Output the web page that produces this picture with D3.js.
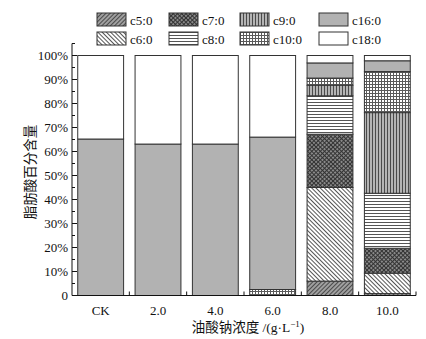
<!DOCTYPE html>
<html>
<head>
<meta charset="utf-8">
<script src="https://cdn.jsdelivr.net/npm/d3@7/dist/d3.min.js"></script>
<style>
  body { margin: 0; background: #fff; }
  text { font-family: "Liberation Serif", "Noto Sans CJK SC", serif; fill: #111; }
</style>
</head>
<body>
<div id="chart"></div>
<script>
// categories (x) and stacked series, bottom to top
const categories = ["CK", "2.0", "4.0", "6.0", "8.0", "10.0"];
const seriesNames = ["c5:0", "c6:0", "c7:0", "c8:0", "c9:0", "c10:0", "c16:0", "c18:0"];

const c5  = [0, 0, 0, 0, 6.0, 0.8];
const c6  = [0, 0, 0, 0, 39.0, 8.5];
const c7  = [0, 0, 0, 0, 22.2, 10.4];
const c8  = [0, 0, 0, 0, 16.0, 22.9];
const c9  = [0, 0, 0, 0, 4.4, 33.6];
const c10 = [0, 0, 0, 2.5, 3.0, 17.1];
const c16 = [65.2, 63.1, 63.1, 63.5, 6.3, 4.5];
const c18 = [34.8, 36.9, 36.9, 34.0, 3.1, 2.2];

const yTicks = [0, 10, 20, 30, 40, 50, 60, 70, 80, 90, 100];
const yMinor = [5, 15, 25, 35, 45, 55, 65, 75, 85, 95, 105];

const seriesValues = [c5, c6, c7, c8, c9, c10, c16, c18];
const table = categories.map((c, i) => {
    const row = { cat: c };
    seriesNames.forEach((s, j) => row[s] = seriesValues[j][i]);
    return row;
});

const width = 426, height = 339;
const left = 72, right = 416, bottom = 295.5;

const svg = d3.select("#chart").append("svg")
    .attr("width", width)
    .attr("height", height);

// fill patterns
const defs = svg.append("defs");
function linePattern(id, bg, stroke, angle, cross, size) {
    const p = defs.append("pattern")
        .attr("id", id)
        .attr("patternUnits", "userSpaceOnUse")
        .attr("width", size).attr("height", size)
        .attr("patternTransform", `rotate(${angle})`);
    p.append("rect").attr("width", size).attr("height", size).attr("fill", bg);
    p.append("line").attr("x1", 0.5).attr("y1", 0).attr("x2", 0.5).attr("y2", size)
        .attr("stroke", stroke).attr("stroke-width", 1);
    if (cross) {
        p.append("line").attr("x1", 0).attr("y1", 0.5).attr("x2", size).attr("y2", 0.5)
            .attr("stroke", stroke).attr("stroke-width", 1);
    }
}
linePattern("p-c5", "#a0a0a0", "#4a4a4a", 45, false, 3);
linePattern("p-c6", "#ffffff", "#555555", -45, false, 3);
linePattern("p-c7", "#8a8a8a", "#333333", 45, true, 3);
linePattern("p-c8", "#ffffff", "#555555", 90, false, 3);
linePattern("p-c9", "#b4b4b4", "#4a4a4a", 0, false, 3);
linePattern("p-c10", "#ffffff", "#5a5a5a", 0, true, 3);

const fills = {
    "c5:0": "url(#p-c5)",
    "c6:0": "url(#p-c6)",
    "c7:0": "url(#p-c7)",
    "c8:0": "url(#p-c8)",
    "c9:0": "url(#p-c9)",
    "c10:0": "url(#p-c10)",
    "c16:0": "#b2b2b2",
    "c18:0": "#ffffff"
};

const x = d3.scaleBand()
    .domain(categories)
    .range([left, right])
    .paddingInner(0.2)
    .paddingOuter(0.1);

const y = d3.scaleLinear()
    .domain([0, 105])
    .range([bottom, bottom - 105 * 2.4]);

const stacked = d3.stack().keys(seriesNames)(table);

svg.append("g")
    .selectAll("g")
    .data(stacked)
    .join("g")
    .attr("fill", d => fills[d.key])
    .selectAll("rect")
    .data(d => d.filter(v => v[1] - v[0] > 0))
    .join("rect")
    .attr("x", d => x(d.data.cat))
    .attr("y", d => y(d[1]))
    .attr("width", x.bandwidth())
    .attr("height", d => y(d[0]) - y(d[1]))
    .attr("stroke", "#333")
    .attr("stroke-width", 1);

// y axis with inward ticks
const yAxis = svg.append("g").attr("transform", `translate(${left},0)`);
yAxis.append("line")
    .attr("x1", 0).attr("x2", 0)
    .attr("y1", y(0)).attr("y2", y(105))
    .attr("stroke", "#111");
yAxis.selectAll(".major").data(yTicks).join("line")
    .attr("x1", 0).attr("x2", 5)
    .attr("y1", d => y(d)).attr("y2", d => y(d))
    .attr("stroke", "#111");
yAxis.selectAll(".minor").data(yMinor).join("line")
    .attr("x1", 0).attr("x2", 3)
    .attr("y1", d => y(d)).attr("y2", d => y(d))
    .attr("stroke", "#111");
yAxis.selectAll("text").data(yTicks).join("text")
    .attr("x", -4)
    .attr("y", d => y(d))
    .attr("dy", "0.35em")
    .attr("text-anchor", "end")
    .style("font-size", "13px")
    .text(d => d === 0 ? "0" : d + "%");

// x axis with inward ticks at category boundaries
const xAxis = svg.append("g");
xAxis.append("line")
    .attr("x1", left).attr("x2", right)
    .attr("y1", bottom).attr("y2", bottom)
    .attr("stroke", "#111");
xAxis.selectAll(".tick").data(categories).join("line")
    .attr("x1", d => x(d) - x.step() * x.paddingInner() / 2 + x.step())
    .attr("x2", d => x(d) - x.step() * x.paddingInner() / 2 + x.step())
    .attr("y1", bottom).attr("y2", bottom - 4)
    .attr("stroke", "#111");
xAxis.selectAll("text").data(categories).join("text")
    .attr("x", d => x(d) + x.bandwidth() / 2)
    .attr("y", 315)
    .attr("text-anchor", "middle")
    .style("font-size", "13px")
    .text(d => d);

// axis titles
const xTitle = svg.append("text")
    .attr("x", 248).attr("y", 332)
    .attr("text-anchor", "middle")
    .style("font-size", "13.5px");
xTitle.append("tspan").text("油酸钠浓度 /(g·L");
xTitle.append("tspan").attr("dy", -5).style("font-size", "9px").text("−1");
xTitle.append("tspan").attr("dy", 5).text(")");

svg.append("text")
    .attr("transform", "translate(30,172) rotate(-90)")
    .attr("text-anchor", "middle")
    .attr("dy", "0.35em")
    .style("font-size", "13.5px")
    .text("脂肪酸百分含量");

// legend: 4 columns, 2 rows
const legendOrder = ["c5:0", "c7:0", "c9:0", "c16:0", "c6:0", "c8:0", "c10:0", "c18:0"];
const colX = [97, 169, 240, 319];
const rowY = [13, 32];
const legend = svg.append("g")
    .selectAll("g")
    .data(legendOrder)
    .join("g")
    .attr("transform", (d, i) => `translate(${colX[i % 4]},${rowY[Math.floor(i / 4)]})`);
legend.append("rect")
    .attr("width", 29).attr("height", 13)
    .attr("fill", d => fills[d])
    .attr("stroke", "#333");
legend.append("text")
    .attr("x", 33).attr("y", 7)
    .attr("dy", "0.35em")
    .style("font-size", "13px")
    .text(d => d);
</script>
</body>
</html>
